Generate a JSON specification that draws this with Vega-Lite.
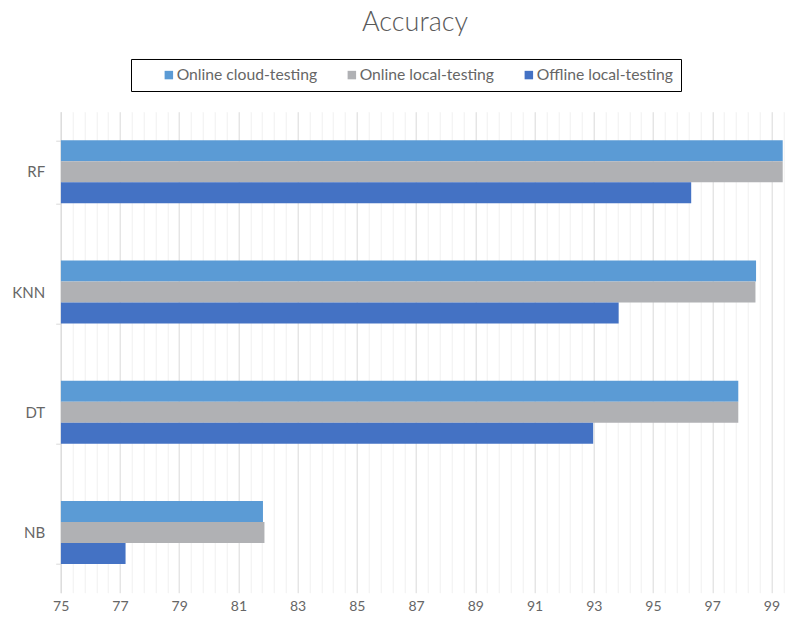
{
  "$schema": "https://vega.github.io/schema/vega-lite/v6.json",
  "autosize": {"type": "none"},
  "width": 722.6,
  "height": 481,
  "padding": {"left": 60.7, "top": 111.7, "right": 2.7, "bottom": 28.3},
  "background": "white",
  "title": {
    "text": "Accuracy",
    "anchor": "middle",
    "frame": "group",
    "dx": -7,
    "offset": 1,
    "baseline": "alphabetic",
    "font": "Lato",
    "fontWeight": 300,
    "fontSize": 27,
    "color": "#595959"
  },
  "config": {
    "view": {"stroke": null},
    "font": "Lato"
  },
  "data": {
    "values": [
      {"model": "RF", "series": "Online cloud-testing", "acc": 99.38},
      {"model": "RF", "series": "Online local-testing", "acc": 99.38},
      {"model": "RF", "series": "Offline local-testing", "acc": 96.29},
      {"model": "KNN", "series": "Online cloud-testing", "acc": 98.48},
      {"model": "KNN", "series": "Online local-testing", "acc": 98.46},
      {"model": "KNN", "series": "Offline local-testing", "acc": 93.84},
      {"model": "DT", "series": "Online cloud-testing", "acc": 97.88},
      {"model": "DT", "series": "Online local-testing", "acc": 97.88},
      {"model": "DT", "series": "Offline local-testing", "acc": 92.98},
      {"model": "NB", "series": "Online cloud-testing", "acc": 81.83},
      {"model": "NB", "series": "Online local-testing", "acc": 81.88},
      {"model": "NB", "series": "Offline local-testing", "acc": 77.19}
    ]
  },
  "mark": {"type": "bar", "clip": true},
  "encoding": {
    "y": {
      "field": "model",
      "type": "nominal",
      "sort": ["RF", "KNN", "DT", "NB"],
      "scale": {"paddingInner": 0.476, "paddingOuter": 0.238},
      "axis": {
        "title": null,
        "tickBand": "extent",
        "tickSize": 5,
        "tickColor": "#d9d9d9",
        "domainColor": "#d9d9d9",
        "labelFontSize": 15,
        "labelColor": "#666666",
        "labelPadding": 11,
        "grid": false
      }
    },
    "yOffset": {
      "field": "series",
      "type": "nominal",
      "sort": ["Online cloud-testing", "Online local-testing", "Offline local-testing"],
      "scale": {"paddingInner": 0, "paddingOuter": 0}
    },
    "x": {
      "field": "acc",
      "type": "quantitative",
      "scale": {"domain": [75, 99.4], "nice": false, "zero": false},
      "axis": {
        "title": null,
        "domain": false,
        "ticks": false,
        "grid": true,
        "gridColor": {"condition": {"test": "datum.value % 2 == 1", "value": "#d9d9d9"}, "value": "#f0f0f0"},
        "gridWidth": 1,
        "values": [75, 75.4, 75.8, 76.2, 76.6, 77, 77.4, 77.8, 78.2, 78.6, 79, 79.4, 79.8, 80.2, 80.6, 81, 81.4, 81.8, 82.2, 82.6, 83, 83.4, 83.8, 84.2, 84.6, 85, 85.4, 85.8, 86.2, 86.6, 87, 87.4, 87.8, 88.2, 88.6, 89, 89.4, 89.8, 90.2, 90.6, 91, 91.4, 91.8, 92.2, 92.6, 93, 93.4, 93.8, 94.2, 94.6, 95, 95.4, 95.8, 96.2, 96.6, 97, 97.4, 97.8, 98.2, 98.6, 99, 99.4],
        "labelExpr": "datum.value % 2 == 1 ? format(datum.value, 'd') : ''",
        "labelOverlap": false,
        "labelFlush": false,
        "labelFontSize": 14,
        "labelColor": "#666666",
        "labelPadding": 7
      }
    },
    "x2": {"datum": 75},
    "color": {
      "field": "series",
      "type": "nominal",
      "sort": ["Online cloud-testing", "Online local-testing", "Offline local-testing"],
      "scale": {
        "domain": ["Online cloud-testing", "Online local-testing", "Offline local-testing"],
        "range": ["#5b9bd5", "#b0b1b4", "#4472c4"]
      },
      "legend": {
        "title": " ",
        "titleOrient": "left",
        "titlePadding": 22,
        "titleFontSize": 4,
        "orient": "none",
        "direction": "horizontal",
        "legendX": 70.3,
        "legendY": -52.7,
        "symbolType": "square",
        "symbolSize": 72,
        "symbolStrokeWidth": 0,
        "labelFontSize": 15.7,
        "labelColor": "#666666",
        "labelOffset": 0,
        "columnPadding": 26,
        "strokeColor": "#000000",
        "padding": 8
      }
    }
  }
}
